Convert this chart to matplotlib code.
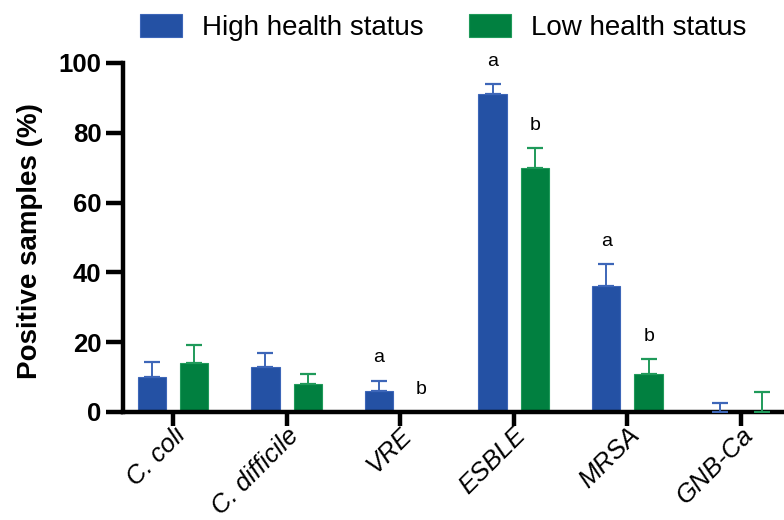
import matplotlib
matplotlib.use('Agg')
import matplotlib.pyplot as plt
import numpy as np

# data
categories = ['C. coli', 'C. difficile', 'VRE', 'ESBLE', 'MRSA', 'GNB-Ca']
high = [10, 13, 6, 91, 36, 0]
high_err = [4.3, 4.0, 3.0, 3.0, 6.4, 2.7]
low = [14, 8, 0, 70, 11, 0]
low_err = [5.3, 3.0, 0.0, 5.5, 4.2, 5.8]
high_sig = ['', '', 'a', 'a', 'a', '']
low_sig = ['', '', 'b', 'b', 'b', '']
series_names = ['High health status', 'Low health status']

BLUE = '#2451a4'
BLUE_EDGE = '#3d66b8'
GREEN = '#018040'
GREEN_EDGE = '#1f9a5a'

plt.rcParams['font.family'] = ['Liberation Sans', 'DejaVu Sans']

fig = plt.figure(figsize=(7.84, 5.2), dpi=100)
ax = fig.add_axes([0.1569, 0.2077, 0.8431, 0.6712])

x = np.arange(len(categories))
width = 0.25
off = 0.187

bars_h = ax.bar(x - off, high, width, color=BLUE, edgecolor=BLUE_EDGE,
                linewidth=0.8, label=series_names[0], zorder=2)
bars_l = ax.bar(x + off, low, width, color=GREEN, edgecolor=GREEN_EDGE,
                linewidth=0.8, label=series_names[1], zorder=2)

# upper-only error bars
ax.errorbar(x - off, high, yerr=[np.zeros(len(high)), high_err], fmt='none',
            ecolor=BLUE_EDGE, elinewidth=1.4, capsize=5.8, capthick=1.6, zorder=3)
low_arr = np.array(low, dtype=float)
low_e = np.array(low_err)
has_err = low_e > 0
ax.errorbar((x + off)[has_err], low_arr[has_err],
            yerr=[np.zeros(has_err.sum()), low_e[has_err]], fmt='none',
            ecolor=GREEN_EDGE, elinewidth=1.4, capsize=5.8, capthick=1.6, zorder=3)

# significance letters
for i in range(len(categories)):
    if high_sig[i]:
        ax.text(x[i] - off, high[i] + high_err[i] + 6.5, high_sig[i],
                ha='center', va='center', fontsize=14, clip_on=False)
    if low_sig[i]:
        ax.text(x[i] + off, low[i] + low_err[i] + 6.5, low_sig[i],
                ha='center', va='center', fontsize=14, clip_on=False)

ax.set_xlim(-0.44, 5.378)
ax.set_ylim(0, 100)
ax.set_yticks([0, 20, 40, 60, 80, 100])
ax.set_xticks(x)
ax.set_xticklabels(categories, rotation=45, ha='right', va='top',
                   rotation_mode='anchor', fontsize=18.5, fontstyle='italic')
for lbl in ax.get_yticklabels():
    lbl.set_fontweight('bold')
    lbl.set_fontsize(18.5)

ax.spines['top'].set_visible(False)
ax.spines['right'].set_visible(False)
ax.spines['left'].set_linewidth(3.2)
ax.spines['bottom'].set_linewidth(3.2)
ax.spines['left'].set_bounds(0, 100)
ax.tick_params(axis='y', length=12, width=3.2, pad=3.5)
ax.tick_params(axis='x', length=10, width=3.2, pad=-2)

ax.set_ylabel('Positive samples (%)', fontsize=20, fontweight='bold')
ax.yaxis.set_label_coords(-0.121, 0.49)

fig.legend(handles=[bars_h, bars_l], labels=series_names, loc='center',
           bbox_to_anchor=(0.565, 0.947), ncol=2, frameon=False, fontsize=20,
           handlelength=1.51, handleheight=0.9, handletextpad=0.72,
           columnspacing=1.62, borderpad=0, borderaxespad=0)

fig.savefig('out.png', dpi=100)
